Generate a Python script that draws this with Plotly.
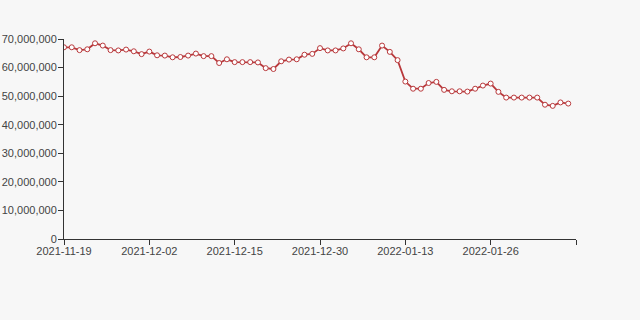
import plotly.graph_objects as go

dates = [
    "2021-11-19", "2021-11-21", "2021-11-22", "2021-11-23", "2021-11-24", "2021-11-25",
    "2021-11-26", "2021-11-28", "2021-11-29", "2021-11-30", "2021-12-01", "2021-12-02",
    "2021-12-03", "2021-12-05", "2021-12-06", "2021-12-07", "2021-12-08", "2021-12-09",
    "2021-12-10", "2021-12-12", "2021-12-13", "2021-12-14", "2021-12-15",
    "2021-12-16", "2021-12-17", "2021-12-19", "2021-12-20", "2021-12-21", "2021-12-22",
    "2021-12-23", "2021-12-27", "2021-12-28", "2021-12-29", "2021-12-30",
    "2021-12-31", "2022-01-03", "2022-01-04", "2022-01-05", "2022-01-06", "2022-01-07",
    "2022-01-09", "2022-01-10", "2022-01-11", "2022-01-12", "2022-01-13",
    "2022-01-14", "2022-01-16", "2022-01-17", "2022-01-18", "2022-01-19", "2022-01-20",
    "2022-01-21", "2022-01-23", "2022-01-24", "2022-01-25", "2022-01-26",
    "2022-01-27", "2022-01-28", "2022-01-30", "2022-01-31", "2022-02-01", "2022-02-02",
    "2022-02-03", "2022-02-04", "2022-02-06", "2022-02-07", "2022-02-08",
]

values_m = [
    67.1, 67.1, 66.1, 66.4, 68.5, 67.7, 66.1, 66.0, 66.3, 65.7,
    64.7, 65.6, 64.3, 64.2, 63.6, 63.7, 64.2, 64.9, 64.0, 64.0,
    61.6, 62.9, 61.9, 61.9, 61.9, 61.8, 59.8, 59.5, 62.2, 62.8,
    62.9, 64.5, 64.8, 66.8, 66.0, 66.0, 66.7, 68.5, 66.4, 63.6,
    63.6, 67.7, 65.5, 62.6, 55.1, 52.6, 52.6, 54.6, 55.0, 52.2,
    51.7, 51.7, 51.6, 52.6, 53.7, 54.4, 51.5, 49.5, 49.5, 49.5,
    49.5, 49.5, 47.0, 46.6, 47.8, 47.4, None,
]
values = [v * 1_000_000 if v is not None else None for v in values_m]

tick_idx = [0, 11, 22, 33, 44, 55, 66]
tick_text = [dates[i] if i < 66 else "" for i in tick_idx]

y_ticks = [0, 10_000_000, 20_000_000, 30_000_000, 40_000_000, 50_000_000, 60_000_000, 70_000_000]
y_text = [f"{v:,}" for v in y_ticks]

line_color = "#b8383b"

fig = go.Figure(
    go.Scatter(
        x=dates,
        y=values,
        mode="lines+markers",
        line=dict(color=line_color, width=1.8),
        marker=dict(symbol="circle", size=5, color="#ffffff",
                    line=dict(color=line_color, width=1)),
        connectgaps=False,
        hoverinfo="x+y",
    )
)

axis_font = dict(family="Liberation Sans, Arial, sans-serif", size=11, color="#444444")

fig.update_layout(
    width=640,
    height=320,
    margin=dict(l=64, r=64, t=39, b=81, autoexpand=False),
    paper_bgcolor="#f7f7f7",
    plot_bgcolor="#f7f7f7",
    showlegend=False,
    xaxis=dict(
        type="category",
        range=[0, 66],
        tickmode="array",
        tickvals=[dates[i] for i in tick_idx],
        ticktext=tick_text,
        showgrid=False,
        zeroline=False,
        showline=True,
        linecolor="#333333",
        linewidth=1,
        ticks="outside",
        ticklen=5,
        tickcolor="#333333",
        tickfont=axis_font,
        automargin=False,
        ticklabelstandoff=-3,
    ),
    yaxis=dict(
        range=[0, 70_000_000],
        tickmode="array",
        tickvals=y_ticks,
        ticktext=y_text,
        showgrid=False,
        zeroline=False,
        showline=True,
        linecolor="#333333",
        linewidth=1,
        ticks="outside",
        ticklen=5,
        tickcolor="#333333",
        tickfont=axis_font,
        automargin=False,
        ticklabelstandoff=-1,
    ),
)

fig.write_html("out.html")
